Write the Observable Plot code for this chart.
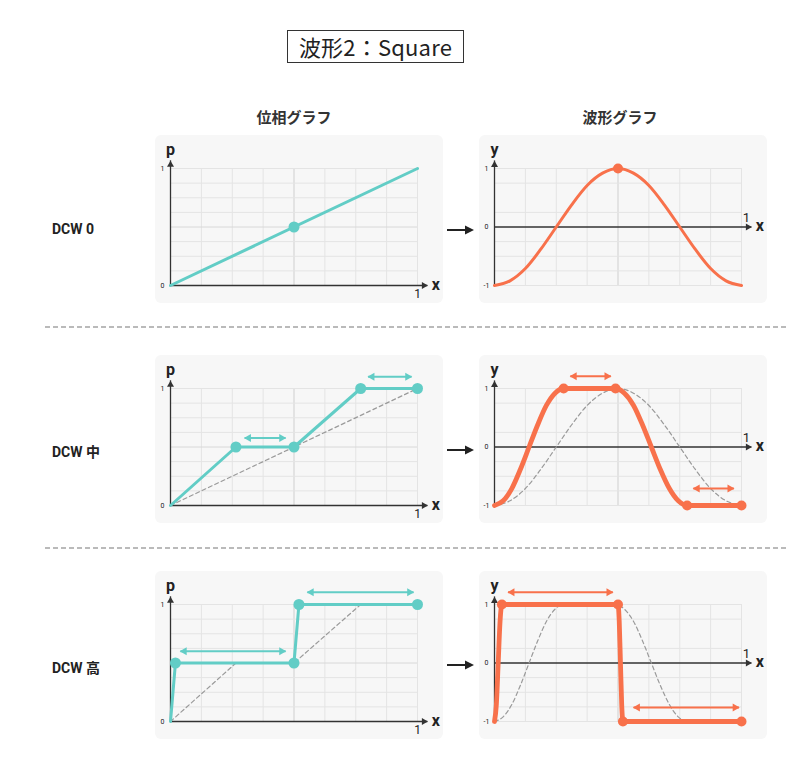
<!DOCTYPE html>
<html><head><meta charset="utf-8">
<script src="https://cdn.jsdelivr.net/npm/d3@7"></script>
<script src="https://cdn.jsdelivr.net/npm/@observablehq/plot@0.6"></script>
<style>
body{margin:0;background:#fff;font-family:"Noto Sans CJK JP",Roboto,sans-serif;color:#222}
#root{position:relative;width:800px;height:764px;overflow:hidden}
.abs{position:absolute}
.card{position:absolute;width:288px;height:168px;background:#f7f7f7;border-radius:6px}
.title{left:287px;top:30px;width:175px;height:31px;border:1.5px solid #333;font-size:22px;line-height:31px;text-align:center;font-weight:400;color:#222;letter-spacing:0.2px}
.colh{top:106px;font-size:15px;font-weight:700;width:160px;text-align:center;color:#333}
.rowl{left:52px;font-size:14px;font-weight:700;color:#222;font-family:Roboto,"Noto Sans CJK JP",sans-serif}
</style></head>
<body><div id="root"></div>
<script>
// ---- data ----
const titleText = "波形2：Square";
const columnHeaders = ["位相グラフ", "波形グラフ"];
const rowLabels = ["DCW 0", "DCW 中", "DCW 高"];

const gridX = [0, 0.125, 0.25, 0.375, 0.5, 0.625, 0.75, 0.875, 1];
const gridP = [0, 0.125, 0.25, 0.375, 0.5, 0.625, 0.75, 0.875, 1];
const gridY = [-1, -0.75, -0.5, -0.25, 0, 0.25, 0.5, 0.75, 1];
const phaseTickLabels = ["0", "1"];
const phaseTickValues = [0, 1];
const waveTickLabels = ["-1", "0", "1"];
const waveTickValues = [-1, 0, 1];

// phase graphs
const phase0X = [0, 1];
const phase0P = [0, 1];
const phase0DotX = [0.5];
const phase0DotP = [0.5];

const phase1X = [0, 0.265, 0.5, 0.77, 1];
const phase1P = [0, 0.5, 0.5, 1, 1];

const phase2X = [0, 0.02, 0.5, 0.52, 1];
const phase2P = [0, 0.5, 0.5, 1, 1];

// wave graphs
const wave0X = [0, 0.0625, 0.125, 0.1875, 0.25, 0.3125, 0.375, 0.4375, 0.5, 0.5625, 0.625, 0.6875, 0.75, 0.8125, 0.875, 0.9375, 1];
const wave0Y = [-1, -0.92, -0.71, -0.38, 0, 0.38, 0.71, 0.92, 1, 0.92, 0.71, 0.38, 0, -0.38, -0.71, -0.92, -1];
const wave0DotX = [0.5];
const wave0DotY = [1];

const wave1X = [0, 0.035, 0.07, 0.105, 0.14, 0.175, 0.21, 0.245, 0.28, 0.49, 0.526, 0.563, 0.599, 0.635, 0.671, 0.708, 0.744, 0.78, 1];
const wave1Y = [-1, -0.92, -0.71, -0.38, 0, 0.38, 0.71, 0.92, 1, 1, 0.92, 0.71, 0.38, 0, -0.38, -0.71, -0.92, -1, -1];
const wave1DotX = [0.28, 0.49, 0.78, 1];
const wave1DotY = [1, 1, -1, -1];

const wave2X = [0, 0.0075, 0.015, 0.0225, 0.03, 0.5, 0.505, 0.51, 0.515, 0.52, 1];
const wave2Y = [-1, -0.71, 0, 0.71, 1, 1, 0.71, 0, -0.71, -1, -1];
const wave2DotX = [0.03, 0.5, 0.52, 1];
const wave2DotY = [1, 1, -1, -1];

// double-headed arrows: [x1, x2, level]
const phase1Arrows = [[0.30, 0.466, 0.577], [0.80, 0.976, 1.10]];
const wave1Arrows = [[0.307, 0.471, 1.21], [0.805, 0.969, -0.71]];
const phase2Arrows = [[0.04, 0.466, 0.6], [0.554, 0.984, 1.105]];
const wave2Arrows = [[0.055, 0.479, 1.21], [0.563, 0.99, -0.76]];

// ---- styling ----
const TEAL = "#62cdc6";
const ORANGE = "#f8714b";
const AXIS = "#333";
const root = document.getElementById("root");
const rowTops = [135, 355, 571];
const cardLefts = [155, 479];

const pts = (xs, ys) => xs.map((x, i) => ({x, y: ys[i]}));
const arrowsData = a => a.map(([x1, x2, y]) => ({x1, x2, y}));

function panel({kind, solid, dashed, dots, arrows, color, lineWidth, dotR}) {
  const wave = kind === "wave";
  const yMin = wave ? -1 : 0;
  const yDomain = wave ? [-1, 1] : [0, 1];
  const gy = wave ? gridY : gridP;
  const yTop = wave ? 1.13 : 1.066;
  const xTip = 1.042;
  const marks = [
    Plot.ruleX(gridX.filter(d => d !== 0 && d !== 0.5), {y1: yMin, y2: 1, stroke: "#e4e4e4", strokeWidth: 1}),
    Plot.ruleX([0.5], {y1: yMin, y2: 1, stroke: "#cfcfcf", strokeWidth: 1}),
    Plot.ruleY(gy.filter(d => d !== 0 && d !== 0.5), {x1: 0, x2: 1, stroke: "#e4e4e4", strokeWidth: 1}),
    Plot.ruleY(wave ? [] : [0.5], {x1: 0, x2: 1, stroke: "#d8d8d8", strokeWidth: 1}),
    // axes
    Plot.ruleX([0], {y1: yMin, y2: yTop, stroke: AXIS, strokeWidth: 1.3}),
    Plot.ruleY([0], {x1: 0, x2: xTip, stroke: AXIS, strokeWidth: 1.3}),
    Plot.dot([{x: 0, y: yTop}], {x: "x", y: "y", symbol: "triangle", r: 2.6, fill: AXIS, stroke: null, dy: 4}),
    Plot.dot([{x: xTip, y: 0}], {x: "x", y: "y", symbol: "triangle", r: 2.6, fill: AXIS, stroke: null, rotate: 90, dx: -4}),
    // tick labels
    Plot.text(wave ? waveTickValues : phaseTickValues, {
      x: 0, y: d => d, text: (d, i) => (wave ? waveTickLabels : phaseTickLabels)[i],
      dx: -8, fontSize: 7, fill: "#222", textAnchor: "middle"}),
    Plot.text(["1"], {x: 1, y: 0, text: d => d, fontSize: wave ? 13 : 12, fill: "#222",
      dx: wave ? 5 : 0, dy: wave ? -9 : 9}),
    Plot.text([wave ? "y" : "p"], {x: 0, y: 1, text: d => d, fontSize: 16, fontWeight: 700, fill: "#222", dy: -19}),
    Plot.text(["x"], {x: xTip, y: 0, text: d => d, fontSize: 16, fontWeight: 700, fill: "#222", dx: 8, dy: -1})
  ];
  if (dashed) marks.push(Plot.line(dashed, {x: "x", y: "y", stroke: "#9a9a9a", strokeWidth: 1.2, strokeDasharray: "4,3", curve: wave ? "monotone-x" : "linear"}));
  marks.push(Plot.line(solid, {x: "x", y: "y", stroke: color, strokeWidth: lineWidth, curve: wave ? "monotone-x" : "linear", strokeLinejoin: "round", strokeLinecap: "round"}));
  if (dots) marks.push(Plot.dot(dots, {x: "x", y: "y", r: dotR, fill: color, stroke: null}));
  if (arrows) {
    const a = arrowsData(arrows);
    marks.push(
      Plot.link(a, {x1: "x1", x2: "x2", y1: "y", y2: "y", stroke: color, strokeWidth: 2}),
      Plot.dot(a, {x: "x2", y: "y", symbol: "triangle", r: 3, fill: color, stroke: null, rotate: 90, dx: -4}),
      Plot.dot(a, {x: "x1", y: "y", symbol: "triangle", r: 3, fill: color, stroke: null, rotate: -90, dx: 4})
    );
  }
  return Plot.plot({
    width: 288, height: 168,
    marginLeft: 15, marginRight: 26, marginTop: 33, marginBottom: 18,
    x: {domain: [0, 1], axis: null},
    y: {domain: yDomain, axis: null},
    style: {background: "transparent", overflow: "visible", fontFamily: "Roboto, 'Noto Sans CJK JP', sans-serif"},
    marks
  });
}

const panels = [
  [panel({kind: "phase", solid: pts(phase0X, phase0P), dots: pts(phase0DotX, phase0DotP), color: TEAL, lineWidth: 3, dotR: 5.5}),
   panel({kind: "wave", solid: pts(wave0X, wave0Y), dots: pts(wave0DotX, wave0DotY), color: ORANGE, lineWidth: 3, dotR: 5})],
  [panel({kind: "phase", solid: pts(phase1X, phase1P), dashed: pts(phase0X, phase0P), dots: pts(phase1X.slice(1), phase1P.slice(1)), arrows: phase1Arrows, color: TEAL, lineWidth: 3, dotR: 5.5}),
   panel({kind: "wave", solid: pts(wave1X, wave1Y), dashed: pts(wave0X, wave0Y), dots: pts(wave1DotX, wave1DotY), arrows: wave1Arrows, color: ORANGE, lineWidth: 4.8, dotR: 5})],
  [panel({kind: "phase", solid: pts(phase2X, phase2P), dashed: pts(phase1X, phase1P), dots: pts(phase2X.slice(1), phase2P.slice(1)), arrows: phase2Arrows, color: TEAL, lineWidth: 3, dotR: 5.5}),
   panel({kind: "wave", solid: pts(wave2X, wave2Y), dashed: pts(wave1X, wave1Y), dots: pts(wave2DotX, wave2DotY), arrows: wave2Arrows, color: ORANGE, lineWidth: 4.8, dotR: 5})]
];

// title
const t = document.createElement("div");
t.className = "abs title"; t.textContent = titleText; root.appendChild(t);
// column headers
[294, 620].forEach((cx, i) => {
  const h = document.createElement("div");
  h.className = "abs colh"; h.style.left = (cx - 80) + "px"; h.textContent = columnHeaders[i];
  root.appendChild(h);
});
// panels
panels.forEach((row, r) => {
  row.forEach((svg, c) => {
    const card = document.createElement("div");
    card.className = "card";
    card.style.left = cardLefts[c] + "px";
    card.style.top = rowTops[r] + "px";
    card.appendChild(svg);
    root.appendChild(card);
  });
  const lab = document.createElement("div");
  lab.className = "abs rowl";
  lab.style.top = (rowTops[r] + 86) + "px";
  lab.textContent = rowLabels[r];
  root.appendChild(lab);
});
// decorations: connector arrows and separators
const NS = "http://www.w3.org/2000/svg";
const deco = document.createElementNS(NS, "svg");
deco.setAttribute("width", 800); deco.setAttribute("height", 764);
deco.style.position = "absolute"; deco.style.left = "0"; deco.style.top = "0"; deco.style.pointerEvents = "none";
const arrowYs = [230, 450, 665];
arrowYs.forEach(y => {
  const l = document.createElementNS(NS, "line");
  l.setAttribute("x1", 447); l.setAttribute("x2", 466); l.setAttribute("y1", y); l.setAttribute("y2", y);
  l.setAttribute("stroke", "#222"); l.setAttribute("stroke-width", 2);
  deco.appendChild(l);
  const p = document.createElementNS(NS, "path");
  p.setAttribute("d", `M465,${y - 4.5}L474,${y}L465,${y + 4.5}Z`);
  p.setAttribute("fill", "#222");
  deco.appendChild(p);
});
[327, 548].forEach(y => {
  const l = document.createElementNS(NS, "line");
  l.setAttribute("x1", 45); l.setAttribute("x2", 786); l.setAttribute("y1", y); l.setAttribute("y2", y);
  l.setAttribute("stroke", "#777"); l.setAttribute("stroke-width", 1.2); l.setAttribute("stroke-dasharray", "5,3");
  deco.appendChild(l);
});
root.appendChild(deco);
</script>
</body></html>
